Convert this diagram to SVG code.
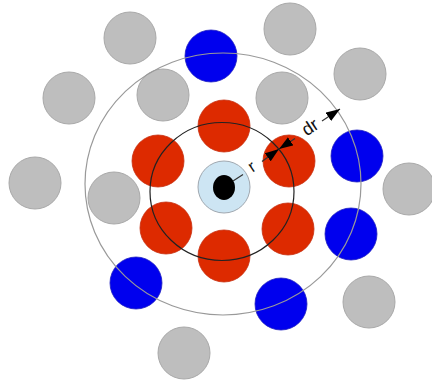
<svg xmlns="http://www.w3.org/2000/svg" width="432" height="385" viewBox="0 0 432 385">
<style>
.g{fill:#bebebe;stroke:#a9a9a9;stroke-width:1}
.red{fill:#dd2a00;stroke:#c83010;stroke-width:0.8}
.b{fill:#0000ee;stroke:#2020c0;stroke-width:0.8}
.ln{stroke:#333;stroke-width:1.2;fill:none}
.t{font-family:"Liberation Sans",Arial,sans-serif;fill:#111}
</style>
<defs>
<marker id="ah" viewBox="0 0 14 10" refX="14" refY="5" markerWidth="14" markerHeight="10" markerUnits="userSpaceOnUse" orient="auto">
<path d="M0,0 L14,5 L0,10 Z" fill="#000"/>
</marker>
<marker id="ahs" viewBox="0 0 14 10" refX="0" refY="5" markerWidth="14" markerHeight="10" markerUnits="userSpaceOnUse" orient="auto">
<path d="M14,0 L0,5 L14,10 Z" fill="#000"/>
</marker>
</defs>
<rect width="432" height="385" fill="#fff"/>
<g id="gray-particles">
<circle class="g" cx="130" cy="38" r="26"/>
<circle class="g" cx="290" cy="29" r="26"/>
<circle class="g" cx="69" cy="98" r="26"/>
<circle class="g" cx="163" cy="95" r="26"/>
<circle class="g" cx="282" cy="98" r="26"/>
<circle class="g" cx="360" cy="74" r="26"/>
<circle class="g" cx="35" cy="183" r="26"/>
<circle class="g" cx="114" cy="198" r="26"/>
<circle class="g" cx="409" cy="189" r="26"/>
<circle class="g" cx="369" cy="302" r="26"/>
<circle class="g" cx="184" cy="353" r="26"/>
</g>
<g id="blue-particles">
<circle class="b" cx="211" cy="56" r="26"/>
<circle class="b" cx="357" cy="156" r="26"/>
<circle class="b" cx="351" cy="234" r="26"/>
<circle class="b" cx="281" cy="304" r="26"/>
<circle class="b" cx="136" cy="283" r="26"/>
</g>
<g id="red-particles">
<circle class="red" cx="224" cy="126" r="26"/>
<circle class="red" cx="289" cy="161" r="26"/>
<circle class="red" cx="158" cy="161" r="26"/>
<circle class="red" cx="166" cy="228" r="26"/>
<circle class="red" cx="288" cy="229" r="26"/>
<circle class="red" cx="224" cy="256" r="26"/>
</g>
<g id="shells">
<ellipse cx="223" cy="184" rx="138" ry="131" fill="none" stroke="#999" stroke-width="1.2"/>
<ellipse cx="222" cy="191.5" rx="72" ry="69" fill="none" stroke="#222" stroke-width="1.2"/>
</g>
<g id="center">
<circle cx="224" cy="187" r="26" fill="#cde5f3" stroke="#a0a8b0" stroke-width="1"/>
<ellipse cx="224" cy="187.5" rx="11" ry="12.5" fill="#000"/>
</g>
<g id="connectors">
<line class="ln" x1="233" y1="181" x2="243" y2="174.5"/>
<line class="ln" x1="262" y1="161.5" x2="279" y2="149" marker-end="url(#ah)"/>
<line class="ln" x1="279" y1="149" x2="295" y2="138.5" marker-start="url(#ahs)"/>
<line class="ln" x1="322" y1="121" x2="340" y2="109" marker-end="url(#ah)"/>
</g>
<text class="t" x="252" y="172" font-size="17" text-anchor="middle" transform="rotate(-33.7 252 167)">r</text>
<text class="t" x="310" y="133" font-size="18" text-anchor="middle" transform="rotate(-33.7 310 127)">dr</text>
</svg>
